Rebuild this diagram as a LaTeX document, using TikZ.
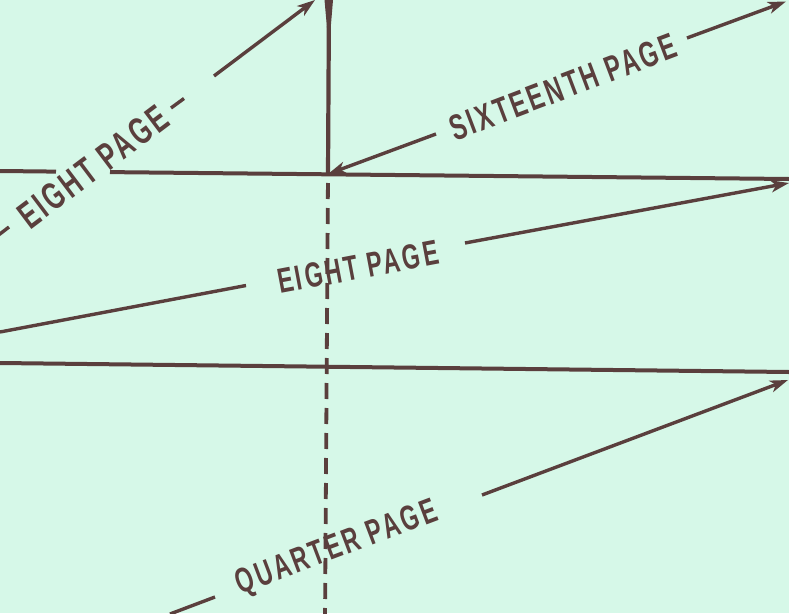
\documentclass[tikz,border=0pt]{standalone}
\usepackage{fontspec}
\setmainfont[FakeStretch=0.66]{Liberation Sans}
\usetikzlibrary{arrows.meta}
\definecolor{bg}{HTML}{D6F8E8}
\definecolor{ink}{HTML}{5A3F3D}
\begin{document}
\begin{tikzpicture}[x=1pt,y=-1pt,
  rule/.style={draw=ink,line width=4pt},
  plain/.style={draw=ink,line width=3.4pt},
  pointer/.style={draw=ink,line width=3.4pt,-{Stealth[length=18pt,width=12pt,inset=5pt]}},
  lbl/.style={text=ink,inner sep=0pt,font=\fontsize{#1}{#1}\selectfont\bfseries\addfontfeature{LetterSpace=8}}]
\useasboundingbox (0,0) rectangle (789,613);
\clip (0,0) rectangle (789,613);
\fill[bg] (0,0) rectangle (789,613);

% vertical fold
\coordinate (x) at (328,174);
\coordinate (vt) at (329,-2);
\coordinate (vb) at (325,620);
\draw[rule,line width=4.2pt] (vt) -- (x);
\fill[ink] (324.5,0) -- (333,0) -- (330.5,30) -- (327.2,30) -- cycle;
\draw[rule,line width=3.8pt,dash pattern=on 16pt off 9pt,dash phase=-9pt] (x) -- (vb);

% horizontal lines
\coordinate (h1l) at (0,171);
\coordinate (h1a) at (56,171.6);
\coordinate (h1b) at (110,172.1);
\coordinate (h1r) at (789,179);
\draw[rule] (h1l) -- (h1a);
\draw[rule] (h1b) -- (h1r);
\coordinate (h2l) at (0,363);
\coordinate (h2r) at (789,372);
\draw[rule] (h2l) -- (h2r);

% labels
\node[lbl=38,rotate=37] (eightA) at (93,167) {EIGHT PAGE};
\node[lbl=35,rotate=10.7] (eightB) at (358,267) {EIGHT PAGE};
\node[lbl=36,rotate=20.7] (sixteen) at (563,87) {SIXTEENTH PAGE};
\node[lbl=35,rotate=20.7] (quarter) at (337,549) {QUARTER PAGE};

% upper-left eight page arrow
\coordinate (e0) at (-4,237);
\coordinate (e1) at (9,227);
\coordinate (e2) at (171,108);
\coordinate (e3) at (184,98.5);
\coordinate (e4) at (214,76);
\coordinate (e5) at (315,0);
\draw[plain] (e0) -- (e1);
\draw[plain] (e2) -- (e3);
\draw[pointer] (e4) -- (e5);

% middle eight page arrow
\coordinate (m0) at (0,332);
\coordinate (m1) at (246,285.5);
\coordinate (m2) at (465,243);
\coordinate (m3) at (789,183);
\draw[plain] (m0) -- (m1);
\draw[pointer] (m2) -- (m3);

% sixteenth page arrows
\coordinate (s1) at (436,134);
\coordinate (s2) at (687,38);
\coordinate (s3) at (786,1.5);
\draw[pointer] (s1) -- (x);
\draw[pointer] (s2) -- (s3);

% quarter page arrow
\coordinate (q0) at (170,614);
\coordinate (q1) at (215,597);
\coordinate (q2) at (482,495);
\coordinate (q3) at (788,380);
\draw[plain] (q0) -- (q1);
\draw[pointer] (q2) -- (q3);
\end{tikzpicture}
\end{document}
